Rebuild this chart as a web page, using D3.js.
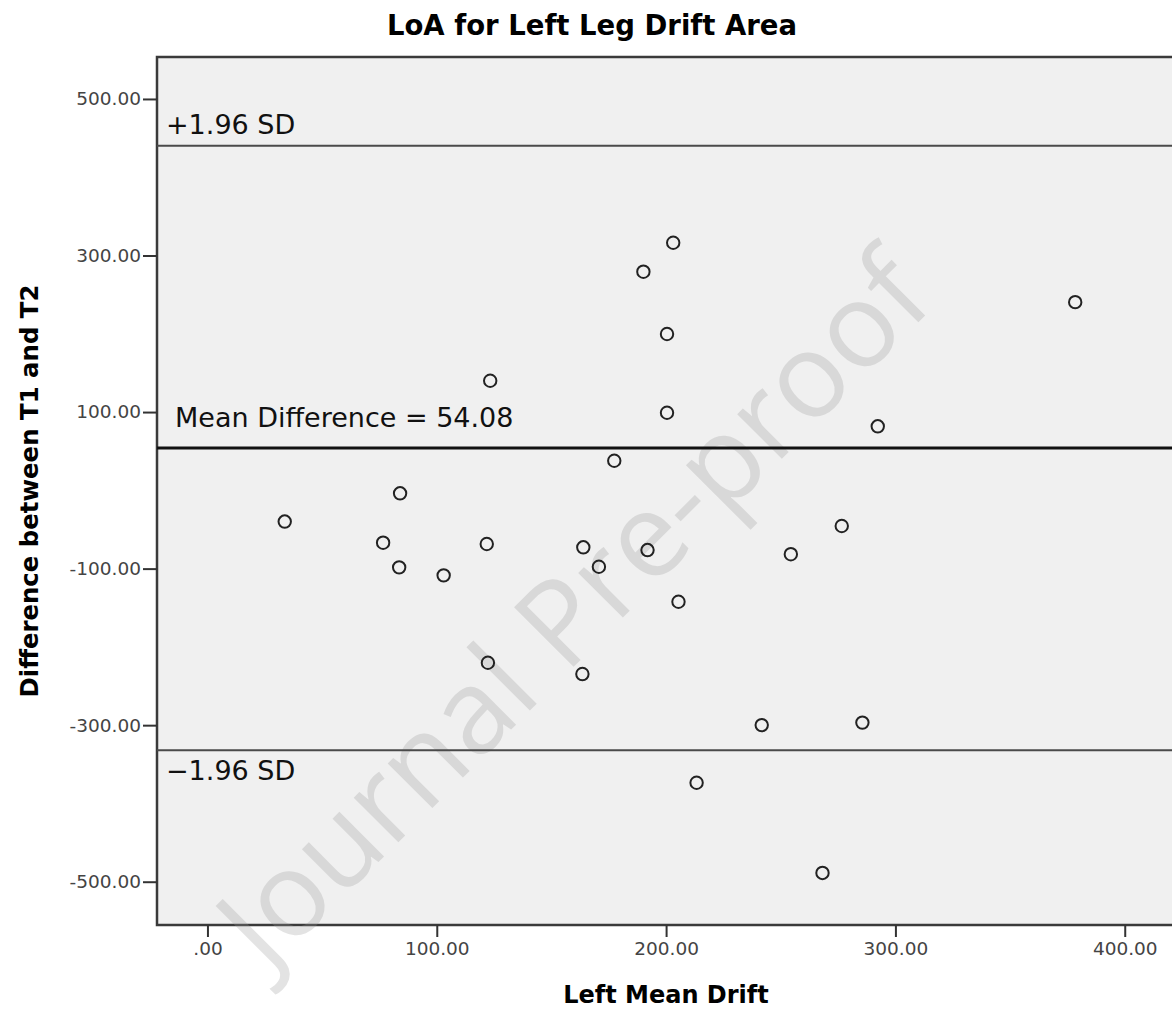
<!DOCTYPE html>
<html>
<head>
<meta charset="utf-8">
<script src="https://cdn.jsdelivr.net/npm/d3@7"></script>
<style>
	body { margin: 0; background: #fff; }
	svg { display: block; }
</style>
</head>
<body>
<div class="container"></div>
<script>
"use strict";

// mean of T1 and T2 (x) and the difference T1 - T2 (y), one entry per subject
const meanDrift = [33.7, 76.6, 84.0, 83.6, 103.0, 123.3, 121.8, 122.3, 163.9, 163.5, 170.7, 177.4, 190.1,
	191.9, 203.1, 200.4, 200.4, 205.4, 213.3, 241.7, 254.4, 268.2, 276.6, 285.6, 292.3, 378.4]
const diffT1T2 = [-39.9, -66.9, -3.8, -98.4, -108.6, 140.0, -68.6, -220.3, -72.8, -234.7, -97.6, 37.8, 279.3,
	-76.3, 316.3, 199.7, 99.1, -142.3, -373.6, -299.9, -81.6, -488.8, -45.6, -296.7, 81.8, 240.4]

// limits of agreement
const limitValues = [440.1, 54.08, -331.9]
const limitLabels = ['+1.96 SD', 'Mean Difference = 54.08', '\u22121.96 SD']

// ticks
const xTicks = [0, 100, 200, 300, 400]
const yTicks = [-500, -300, -100, 100, 300, 500]

const titleText = 'LoA for Left Leg Drift Area'
const xTitle = 'Left Mean Drift'
const yTitle = 'Difference between T1 and T2'

//the p(properties) of the svg
const p = {
	width: 1172,
	height: 1011,
	left: 157,
	top: 57,
	plotW: 1048, // runs past the right edge of the picture, as in the source
	plotH: 868,
	font: '"DejaVu Sans", "Open Sans", sans-serif'
}

const svg = d3.select('.container')
	.append('svg')
	.attr('width', p.width)
	.attr('height', p.height)
	.style('font-family', p.font)

const x = d3.scaleLinear().domain([-22, 435]).range([p.left, p.left + p.plotW])
const y = d3.scaleLinear().domain([-555.3, 553.6]).range([p.top + p.plotH, p.top])

// plot background + frame
svg.append('rect')
	.attr('x', p.left)
	.attr('y', p.top)
	.attr('width', p.plotW)
	.attr('height', p.plotH)
	.attr('fill', '#f0f0f0')
	.attr('stroke', '#3a3a3a')
	.attr('stroke-width', 2.5)

// watermark (under the marks)
svg.append('text')
	.attr('transform', 'translate(580,616) rotate(-45)')
	.attr('text-anchor', 'middle')
	.attr('dominant-baseline', 'middle')
	.attr('fill', '#999')
	.attr('opacity', 0.27)
	.style('font-family', '"Open Sans", sans-serif')
	.style('font-size', '118px')
	.text('Journal Pre-proof')

// axes
const fmt = d => d === 0 ? '.00' : d.toFixed(2)

const xAxis = svg.append('g')
	.attr('transform', `translate(0,${p.top + p.plotH})`)
	.call(d3.axisBottom(x).tickValues(xTicks).tickFormat(fmt).tickSize(12).tickPadding(5))
const yAxis = svg.append('g')
	.attr('transform', `translate(${p.left},0)`)
	.call(d3.axisLeft(y).tickValues(yTicks).tickFormat(fmt).tickSize(14).tickPadding(2))

;[xAxis, yAxis].forEach(function(g) {
	g.select('.domain').remove()
	g.selectAll('.tick line').attr('stroke', '#333').attr('stroke-width', 2)
	g.selectAll('.tick text')
		.attr('fill', '#444')
		.style('font-family', p.font)
		.style('font-size', '18.5px')
})

// limit lines
svg.append('g')
	.selectAll('line')
	.data(limitValues)
	.join('line')
	.attr('x1', p.left)
	.attr('x2', p.left + p.plotW)
	.attr('y1', d => y(d))
	.attr('y2', d => y(d))
	.attr('stroke', (d, i) => i === 1 ? '#111' : '#4a4a4a')
	.attr('stroke-width', (d, i) => i === 1 ? 3 : 2)

// limit labels: dx from plot edge, dy from line
const labelOffsets = [[9, -12], [18, -21], [9, 30]]
svg.append('g')
	.selectAll('text')
	.data(limitLabels)
	.join('text')
	.attr('x', (d, i) => p.left + labelOffsets[i][0])
	.attr('y', (d, i) => y(limitValues[i]) + labelOffsets[i][1])
	.attr('fill', '#111')
	.style('font-size', '27px')
	.text(d => d)

// points
svg.append('g')
	.selectAll('circle')
	.data(meanDrift.map((m, i) => [m, diffT1T2[i]]))
	.join('circle')
	.attr('cx', d => x(d[0]))
	.attr('cy', d => y(d[1]))
	.attr('r', 6.2)
	.attr('fill', 'none')
	.attr('stroke', '#222')
	.attr('stroke-width', 2)

// titles
svg.append('text')
	.attr('x', 592)
	.attr('y', 35)
	.attr('text-anchor', 'middle')
	.style('font-size', '27.5px')
	.style('font-weight', 'bold')
	.text(titleText)

svg.append('text')
	.attr('x', 666)
	.attr('y', 1003)
	.attr('text-anchor', 'middle')
	.style('font-size', '24px')
	.style('font-weight', 'bold')
	.text(xTitle)

svg.append('text')
	.attr('transform', 'translate(38,491) rotate(-90)')
	.attr('text-anchor', 'middle')
	.style('font-size', '24.4px')
	.style('font-weight', 'bold')
	.text(yTitle)
</script>
</body>
</html>
